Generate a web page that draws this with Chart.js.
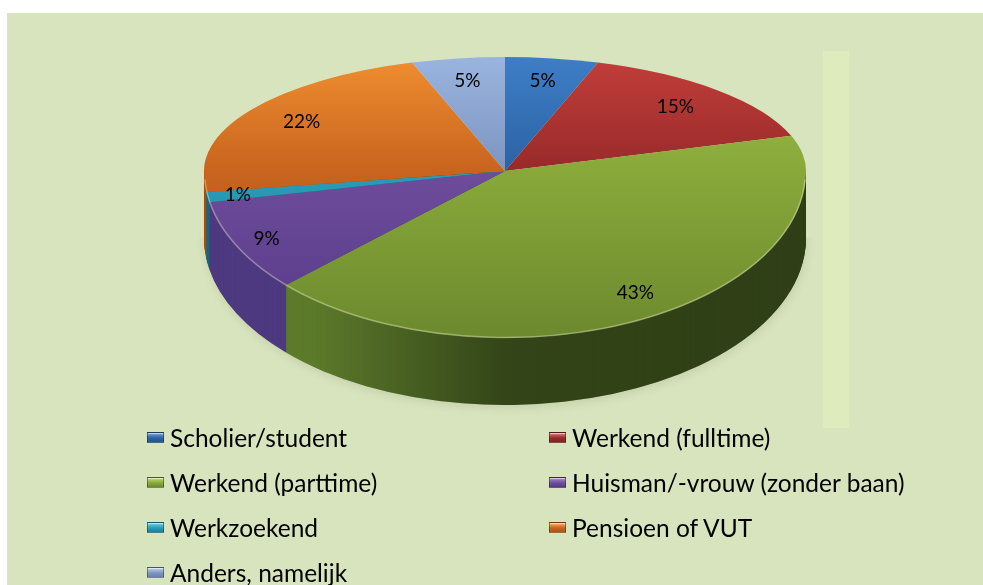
<!DOCTYPE html>
<html><head><meta charset="utf-8">
<script src="https://cdn.jsdelivr.net/npm/chart.js"></script>
<style>
html,body{margin:0;padding:0;background:#fff;width:983px;height:585px;overflow:hidden;}
#panel{position:absolute;left:7px;top:13px;width:976px;height:572px;background:#d8e4bd;}
#strip{position:absolute;left:823px;top:51px;width:26px;height:377px;background:#deebbc;}
#c{position:absolute;left:0;top:0;}
#legend{position:absolute;left:147px;top:424px;display:grid;grid-template-columns:402px 400px;grid-auto-rows:45px;font-family:Lato,"Open Sans",sans-serif;font-size:24.5px;color:#000;}
.item{display:flex;align-items:center;height:26px;white-space:nowrap;}
.sw{width:15px;height:9px;margin-right:6px;border:1px solid rgba(0,0,0,0.35);box-shadow:inset 0 1px 1px rgba(255,255,255,0.6);}
</style></head>
<body>
<div id="panel"></div>
<div id="strip"></div>
<canvas id="c" width="983" height="585"></canvas>
<div id="legend"></div>
<script>
const labels = ['Scholier/student','Werkend (fulltime)','Werkend (parttime)','Huisman/-vrouw (zonder baan)','Werkzoekend','Pensioen of VUT','Anders, namelijk'];
const values = [5, 15, 43, 9, 1, 22, 5];
const faceLight = ['#3e7ec6','#c23e3a','#9cbc48','#8060ac','#36b0cc','#f08e30','#9ab4e0'];
const faceMid   = ['#2b62a4','#982a2a','#88a83a','#6e4c9c','#2a9cb8','#c8641e','#7c94c0'];
const faceDark  = ['#24558f','#7e2222','#6c8a2e','#553a88','#1c809a','#a8521a','#6880aa'];
const wallColors= ['#1f4a7d','#6e1c1c','#5e7d2c','#4e3a80','#16697f','#a34f14','#5a6f96'];
const swatchTop = ['#7aa4da','#de7a76','#c2dc70','#a88ad0','#6cd0e6','#f8b070','#c0d0f0'];

const SHAPE = {rx:301, ryTop:114, ryBot:167, depth:67};

// HTML legend built from the data arrays
const lg = document.getElementById('legend');
labels.forEach((l,i)=>{
  const it = document.createElement('div'); it.className='item';
  const sw = document.createElement('span'); sw.className='sw';
  sw.style.background = 'linear-gradient(to bottom,'+swatchTop[i]+' 0%,'+faceMid[i]+' 55%,'+faceDark[i]+' 100%)';
  const tx = document.createElement('span'); tx.textContent = l;
  it.appendChild(sw); it.appendChild(tx); lg.appendChild(it);
});

const pie3d = {
  id:'pie3d',
  beforeDatasetDraw(chart, args){
    const ctx = chart.ctx, arcs = args.meta.data;
    if(!arcs.length) return false;
    const cx = arcs[0].x, cy = arcs[0].y, r = arcs[0].outerRadius;
    const sx = SHAPE.rx / r, W = chart.width, H = chart.height;
    function paint(arc, fill){
      const o = Object.assign({}, arc.options, {backgroundColor: fill, borderWidth: 0, offset:0});
      const el = Object.create(arc, {options:{value:o, writable:true}});
      arc.draw.call(el, ctx);
    }
    function half(top, off, fn){
      ctx.save();
      ctx.beginPath();
      if(top) ctx.rect(0,0,W,cy+0.5); else ctx.rect(0,cy+off-0.5,W,H);
      ctx.clip();
      ctx.translate(cx, cy+off);
      ctx.scale(sx, (top?SHAPE.ryTop:SHAPE.ryBot)/r);
      ctx.translate(-cx,-cy);
      fn();
      ctx.restore();
    }
    // side wall (extruded layers)
    for(let off=SHAPE.depth; off>=1; off--){
      half(false, off, ()=>arcs.forEach((a,i)=>paint(a, wallColors[i])));
    }
    // wall shading
    ctx.save();
    ctx.globalCompositeOperation='source-atop';
    const g = ctx.createLinearGradient(cx-SHAPE.rx,0,cx+SHAPE.rx,0);
    g.addColorStop(0,'rgba(0,0,0,0)');
    g.addColorStop(0.18,'rgba(0,0,0,0.02)');
    g.addColorStop(0.5,'rgba(0,0,0,0.45)');
    g.addColorStop(1,'rgba(0,0,0,0.5)');
    ctx.fillStyle=g; ctx.fillRect(0,0,W,H);
    ctx.restore();
    // soft shadow behind
    ctx.save();
    ctx.globalCompositeOperation='destination-over';
    ctx.shadowColor='rgba(60,70,40,0.35)'; ctx.shadowBlur=8; ctx.shadowOffsetY=3; ctx.shadowOffsetX=1;
    half(false, SHAPE.depth, ()=>arcs.forEach((a,i)=>paint(a, 'rgba(120,135,90,0.35)')));
    ctx.restore();
    // top face
    [true,false].forEach(top=>{
      half(top, 0, ()=>arcs.forEach((a,i)=>{
        const gr = ctx.createLinearGradient(0, cy-r, 0, cy+r);
        gr.addColorStop(0, faceLight[i]); gr.addColorStop(0.5, faceMid[i]); gr.addColorStop(1, faceDark[i]);
        paint(a, gr);
      }));
    });
    // rim highlight
    ctx.save();
    ctx.beginPath();
    ctx.ellipse(cx, cy, SHAPE.rx-0.5, SHAPE.ryBot-0.5, 0, 0.05, Math.PI-0.05);
    ctx.strokeStyle='rgba(255,255,220,0.35)'; ctx.lineWidth=1.5; ctx.stroke();
    ctx.restore();
    return false;
  },
  afterDatasetsDraw(chart){
    const ctx = chart.ctx, arcs = chart.getDatasetMeta(0).data;
    if(!arcs.length) return;
    const cx = arcs[0].x, cy = arcs[0].y;
    const total = values.reduce((s,v)=>s+v,0);
    ctx.save();
    ctx.font = '19px Lato';
    ctx.fillStyle = '#000';
    ctx.textAlign='center'; ctx.textBaseline='middle';
    arcs.forEach((a,i)=>{
      const mid=(a.startAngle+a.endAngle)/2, ux=Math.cos(mid), uy=Math.sin(mid);
      const f = uy>0 ? 0.8+0.1*Math.abs(ux) : 0.8;
      const x = cx + f*ux*SHAPE.rx, y = cy + f*uy*(uy>0?SHAPE.ryBot:SHAPE.ryTop);
      ctx.fillText(Math.round(values[i]/total*100)+'%', x, y);
    });
    ctx.restore();
  }
};

new Chart(document.getElementById('c'), {
  type:'pie',
  data:{labels, datasets:[{data:values, backgroundColor:faceMid, borderWidth:0}]},
  options:{
    responsive:false, animation:false, events:[],
    layout:{padding:{left:100,right:73,top:20,bottom:263}},
    plugins:{legend:{display:false}, tooltip:{enabled:false}}
  },
  plugins:[pie3d]
});
</script>
</body></html>
